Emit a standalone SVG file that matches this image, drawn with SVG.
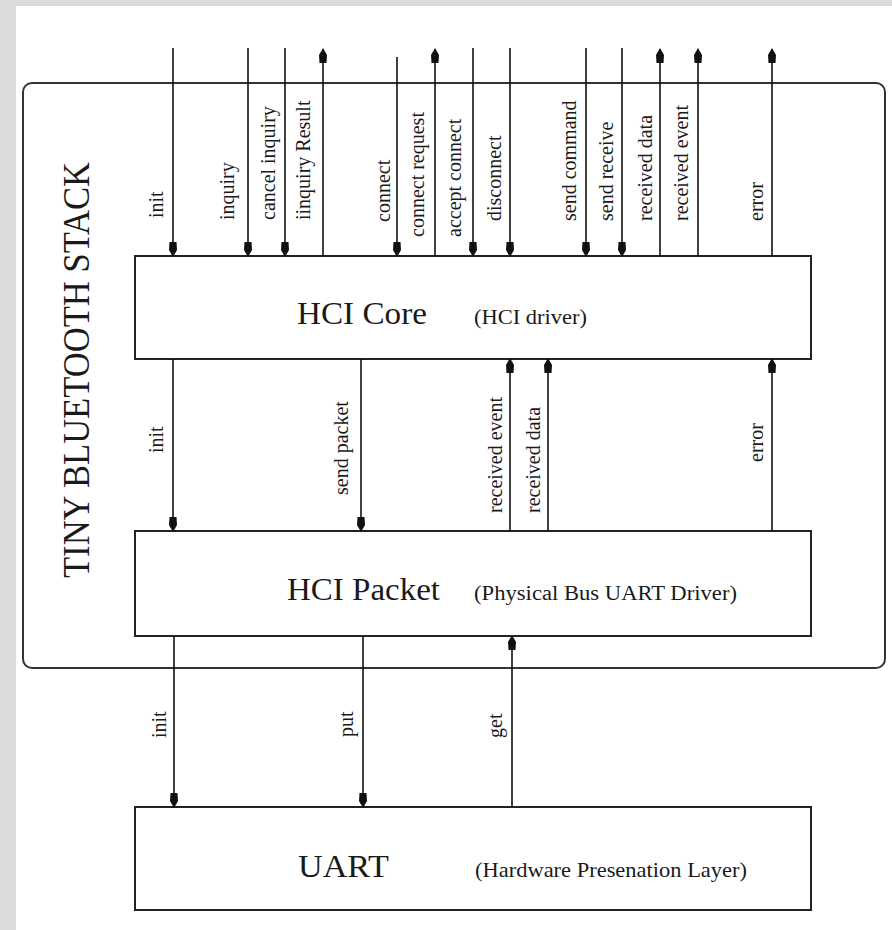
<svg xmlns="http://www.w3.org/2000/svg" width="892" height="930" viewBox="0 0 892 930">
<style>
.bg{fill:#dcdcdc}
.box{fill:#fff;stroke:#222;stroke-width:2}
.outer{fill:none;stroke:#333;stroke-width:2}
.ln{stroke:#111;stroke-width:1.6;fill:none}
.dn{marker-end:url(#ah)}
.up{marker-end:url(#ah)}
text{font-family:"Liberation Serif","Times New Roman",serif;fill:#1a1a1a}
.lbl{font-size:20px}
.big{font-size:31px}
.sub{font-size:20px}
</style>
<defs>
<marker id="ah" markerUnits="userSpaceOnUse" markerWidth="16" markerHeight="10" refX="0" refY="0" viewBox="-15 -5 16 10" orient="auto" overflow="visible">
<path d="M1,0 L-6,-4 L-14,-3.5 L-14,3.5 L-6,4 Z" fill="#111"/>
</marker>
</defs>
<rect class="bg" x="0" y="0" width="892" height="6"/>
<rect class="bg" x="0" y="0" width="16" height="930"/>

<g id="stack">
<rect class="outer" x="23" y="83" width="862" height="585" rx="9"/>
<text transform="translate(89,578) rotate(-90)" font-size="38" textLength="416" lengthAdjust="spacingAndGlyphs">TINY BLUETOOTH STACK</text>
</g>

<g id="hci-core">
<rect class="box" x="135" y="256" width="676" height="103"/>
<text class="big" x="297" y="324" textLength="130" lengthAdjust="spacingAndGlyphs">HCI Core</text>
<text class="sub" x="474" y="324" textLength="113" lengthAdjust="spacingAndGlyphs">(HCI driver)</text>
</g>

<g id="hci-packet">
<rect class="box" x="135" y="531" width="676" height="105"/>
<text class="big" x="287" y="600" textLength="153" lengthAdjust="spacingAndGlyphs">HCI Packet</text>
<text class="sub" x="474" y="600" textLength="263" lengthAdjust="spacingAndGlyphs">(Physical Bus UART Driver)</text>
</g>

<g id="uart">
<rect class="box" x="135" y="807" width="676" height="103"/>
<text x="298" y="877" font-size="32" textLength="91" lengthAdjust="spacingAndGlyphs">UART</text>
<text x="475" y="877" font-size="22" textLength="272" lengthAdjust="spacingAndGlyphs">(Hardware Presenation Layer)</text>
</g>

<g id="connectors">
<line class="ln dn" x1="173" y1="48" x2="173" y2="256"/>
<line class="ln dn" x1="248" y1="48" x2="248" y2="256"/>
<line class="ln dn" x1="285" y1="48" x2="285" y2="256"/>
<line class="ln up" x1="323" y1="256" x2="323" y2="49"/>
<line class="ln dn" x1="397" y1="57" x2="397" y2="256"/>
<line class="ln up" x1="435" y1="256" x2="435" y2="49"/>
<line class="ln dn" x1="473" y1="48" x2="473" y2="256"/>
<line class="ln dn" x1="510" y1="48" x2="510" y2="256"/>
<line class="ln dn" x1="586" y1="48" x2="586" y2="256"/>
<line class="ln dn" x1="622" y1="48" x2="622" y2="256"/>
<line class="ln up" x1="660" y1="256" x2="660" y2="49"/>
<line class="ln up" x1="698" y1="256" x2="698" y2="49"/>
<line class="ln up" x1="772" y1="256" x2="772" y2="49"/>
<line class="ln dn" x1="173" y1="359" x2="173" y2="531"/>
<line class="ln dn" x1="361" y1="359" x2="361" y2="531"/>
<line class="ln up" x1="510" y1="531" x2="510" y2="359"/>
<line class="ln up" x1="548" y1="531" x2="548" y2="359"/>
<line class="ln up" x1="772" y1="531" x2="772" y2="359"/>
<line class="ln dn" x1="174" y1="636" x2="174" y2="807"/>
<line class="ln dn" x1="363" y1="636" x2="363" y2="807"/>
<line class="ln up" x1="512" y1="807" x2="512" y2="636"/>

<text class="lbl" transform="translate(163,218) rotate(-90)">init</text>
<text class="lbl" transform="translate(234,220) rotate(-90)">inquiry</text>
<text class="lbl" transform="translate(275,220) rotate(-90)">cancel inquiry</text>
<text class="lbl" transform="translate(310,220) rotate(-90)">iinquiry Result</text>
<text class="lbl" transform="translate(390,222) rotate(-90)">connect</text>
<text class="lbl" transform="translate(424,237) rotate(-90)">connect request</text>
<text class="lbl" transform="translate(461,237) rotate(-90)">accept connect</text>
<text class="lbl" transform="translate(501,221) rotate(-90)">disconnect</text>
<text class="lbl" transform="translate(576,221) rotate(-90)">send command</text>
<text class="lbl" transform="translate(613,221) rotate(-90)">send receive</text>
<text class="lbl" transform="translate(652,221) rotate(-90)">received data</text>
<text class="lbl" transform="translate(688,221) rotate(-90)">received event</text>
<text class="lbl" transform="translate(763,221) rotate(-90)">error</text>

<text class="lbl" transform="translate(163,453) rotate(-90)">init</text>
<text class="lbl" transform="translate(348,495) rotate(-90)">send packet</text>
<text class="lbl" transform="translate(502,513) rotate(-90)">received event</text>
<text class="lbl" transform="translate(540,513) rotate(-90)">received data</text>
<text class="lbl" transform="translate(763,462) rotate(-90)">error</text>

<text class="lbl" transform="translate(166,738) rotate(-90)">init</text>
<text class="lbl" transform="translate(353,737) rotate(-90)">put</text>
<text class="lbl" transform="translate(502,738) rotate(-90)">get</text>
</g>
</svg>
